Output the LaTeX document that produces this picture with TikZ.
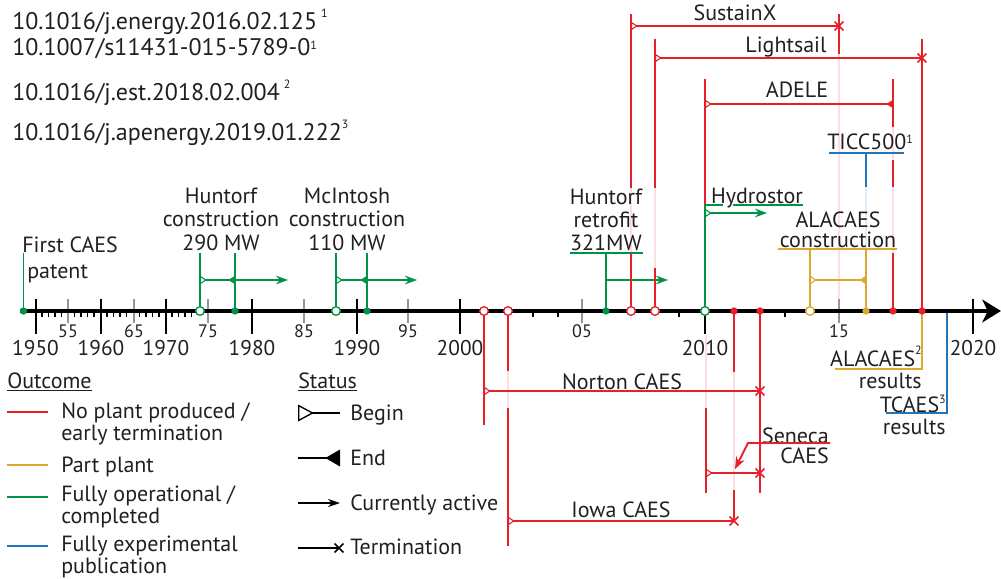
\documentclass[tikz,border=0pt]{standalone}
\usepackage{fontspec}
\setmainfont{PT Sans}
\usetikzlibrary{arrows.meta,shapes.misc}

\definecolor{caesred}{RGB}{230,32,40}
\definecolor{caesgreen}{RGB}{0,146,69}
\definecolor{caesgold}{RGB}{218,170,48}
\definecolor{caesblue}{RGB}{32,117,189}
\definecolor{tickgray}{RGB}{150,150,150}
\definecolor{inkgray}{RGB}{35,31,32}

\newcommand{\lblfont}{\fontsize{16.5}{17.6}\selectfont}
\newcommand{\doifont}{\fontsize{18}{20}\selectfont}
\newcommand{\yrfont}{\fontsize{13.5}{15}\selectfont}
\newcommand{\supr}[2][9pt]{\raisebox{#1}{\fontsize{9}{9}\selectfont #2}}

\tikzset{
    bgn/.tip={Triangle[reversed, fill=white, length=5pt, width=6.5pt, line width=0.8pt]},
    fin/.tip={Triangle[reversed, length=5pt, width=6pt]},
    act/.tip={Stealth[length=9pt, width=6.5pt]}
}

\begin{document}
\begin{tikzpicture}[
    x=0.75pt, y=-0.75pt,
    txt/.style={font=\lblfont, inner sep=0pt, text=inkgray},
    yr/.style={font=\fontsize{16}{18}\selectfont, inner sep=0pt, anchor=base, text=inkgray},
    hyr/.style={font=\yrfont, inner sep=0pt, anchor=base, text=inkgray},
    bar/.style={line width=1.4pt},
    faint/.style={line width=1.4pt, draw=#1!14},
    odot/.style={circle, draw=#1, fill=white, line width=1pt, minimum size=6.5pt, inner sep=0pt},
    fdot/.style={circle, fill=#1, minimum size=5.5pt, inner sep=0pt},
    xmark/.style={cross out, draw=#1, line width=1.1pt, minimum size=5.5pt, inner sep=0pt},
    major/.style={line width=1.5pt, draw=black},
    half/.style={line width=1.5pt, draw=tickgray},
    minor/.style={line width=0.8pt, draw=black}
]
\useasboundingbox (0,0) rectangle (1001,579);

% references
\node[txt, font=\doifont, anchor=base west] (doi1) at (12,29) {10.1016/j.energy.2016.02.125\,\supr{1}};
\node[txt, font=\doifont, anchor=base west] (doi2) at (12,55) {10.1007/s11431-015-5789-0\supr[4pt]{1}};
\node[txt, font=\doifont, anchor=base west] (doi3) at (12,100) {10.1016/j.est.2018.02.004\,\supr{2}};
\node[txt, font=\doifont, anchor=base west] (doi4) at (12,140) {10.1016/j.apenergy.2019.01.222\supr{3}};

% faint crossings
\draw[faint=caesred] (631,188) -- (631,253);
\draw[faint=caesred] (655,188) -- (655,268);
\draw[faint=caesred] (839,54) -- (839,299);
\draw[faint=caesblue] (866,187) -- (866,249);
\draw[faint=caesred] (893,127) -- (893,160);
\draw[faint=caesred] (893,187) -- (893,253);
\draw[faint=caesred] (508,371) -- (508,408);
\draw[faint=caesred] (706,335) -- (706,408);
\draw[faint=caesred] (734,372) -- (734,490);

% time axis
\foreach \k in {1,2,3,4,6,7,8,9,11,12,13,14,16,17,18,19,21,22,23,24}
    \draw[minor] ({35.5+6.5*\k},311) -- ++(0,6);
\foreach \x in {533,558,679,785}
    \draw[minor] (\x,311) -- ++(0,6);
\foreach \x/\t in {68/55,134/65,208/75,304/85,408/95,582/05,839/15} {
    \draw[half] (\x,299) -- (\x,323);
    \node[hyr] (h\t) at (\x,337) {\t};
}
\foreach \x/\t in {35.5/1950,101/1960,166/1970,252/1980,357/1990,460/2000,705/2010,973/2020} {
    \draw[major] (\x,299) -- (\x,334);
    \node[yr] (y\t) at (\x,355) {\t};
}
\draw[line width=3pt, -{Stealth[length=14pt, width=17pt, inset=4pt]}] (20,311) -- (1001,311);

% green: fully operational
\node[txt, anchor=base west] (fc1) at (22,252) {First CAES};
\node[txt, anchor=base west] (fc2) at (27,278) {patent};
\draw[bar, caesgreen] (23.5,253) -- (23.5,311);

\node[txt, align=center, anchor=base] (hcon) at (221,250) {Huntorf\\construction\\290 MW};
\draw[bar, caesgreen] (200,253) -- (200,311);
\draw[bar, caesgreen] (235,253) -- (235,311);
\draw[bar, caesgreen, bgn-fin] (200,280) -- (235,280);
\draw[bar, caesgreen, -act] (235,280) -- (288,280);

\node[txt, align=center, anchor=base] (mcon) at (347,250) {McIntosh\\construction\\110 MW};
\draw[bar, caesgreen] (336,253) -- (336,311);
\draw[bar, caesgreen] (367,253) -- (367,311);
\draw[bar, caesgreen, bgn-fin] (336,280) -- (367,280);
\draw[bar, caesgreen, -act] (367,280) -- (417,280);

\node[txt, align=center, anchor=base, font=\fontsize{16.5}{16.9}\selectfont] (hret) at (606,250) {Huntorf\\retrofit\\321MW};
\draw[bar, caesgreen] (570,253) -- (643,253);
\draw[bar, caesgreen] (606,253) -- (606,311);
\draw[bar, caesgreen, -act] (606,280) -- (668,280);

% red: no plant produced (above axis)
\draw[bar, caesred] (631,14) -- (631,188);
\draw[bar, caesred] (631,253) -- (631,311);
\node[txt, anchor=base] (sxt) at (735,20) {SustainX};
\draw[bar, caesred, bgn-] (631,26) -- (839,26) node[xmark=caesred] (sxx) {};
\draw[bar, caesred] (839,14) -- (839,54);

\draw[bar, caesred] (655,39) -- (655,188);
\draw[bar, caesred] (655,268) -- (655,311);
\node[txt, anchor=base] (lst) at (786,52) {Lightsail};
\draw[bar, caesred, bgn-] (655,58) -- (922,58) node[xmark=caesred] (lsx) {};
\draw[bar, caesred] (922,39) -- (922,311);

\draw[bar, caesred] (705,79) -- (705,205);
\node[txt, anchor=base] (adt) at (797,97) {ADELE};
\draw[bar, caesred, bgn-fin] (705,104) -- (893,104);
\draw[bar, caesred] (893,79) -- (893,127);
\draw[bar, caesred] (893,160) -- (893,187);
\draw[bar, caesred] (893,253) -- (893,311);

% blue: experimental
\node[txt, anchor=base west] (tcc) at (827,149) {TICC500\supr[4.5pt]{1}};
\draw[bar, caesblue] (829,153) -- (904,153);
\draw[bar, caesblue] (866,153) -- (866,187);

% green: Hydrostor
\node[txt, anchor=base] (hyd) at (757,203) {Hydrostor};
\draw[bar, caesgreen] (705,205) -- (723,205);
\draw[bar, caesgreen] (733,205) -- (803,205);
\draw[bar, caesgreen] (705,205) -- (705,311);
\draw[bar, caesgreen, bgn-act] (705,213) -- (767,213);

% gold: part plant
\node[txt, align=center, anchor=base, font=\fontsize{16.5}{14.8}\selectfont] (alc) at (838,247) {ALACAES\\construction};
\draw[bar, caesgold] (778,249) -- (897,249);
\draw[bar, caesgold] (810,249) -- (810,311);
\draw[bar, caesgold] (866,249) -- (866,311);
\draw[bar, caesgold, bgn-fin] (810,280) -- (866,280);

\node[txt, align=right, anchor=base east, font=\fontsize{16.5}{15.8}\selectfont] (alr) at (922,388) {ALACAES\supr{2}\\results};
\draw[bar, caesgold] (922,311) -- (922,369) -- (835,369);

\node[txt, align=right, anchor=base east, font=\fontsize{16.5}{16.4}\selectfont] (tcr) at (946,434) {TCAES\supr[6.5pt]{3}\\results};
\draw[bar, caesblue] (947,313) -- (947,413) -- (886,413);

% red: below axis
\draw[bar, caesred] (484,311) -- (484,425);
\node[txt, anchor=base] (nort) at (622,389) {Norton CAES};
\draw[bar, caesred, bgn-] (484,391) -- (760,391) node[xmark=caesred] (nox) {};

\draw[bar, caesred] (508,311) -- (508,371);
\draw[bar, caesred] (508,408) -- (508,546);
\node[txt, anchor=base] (iowt) at (621,517) {Iowa CAES};
\draw[bar, caesred, bgn-] (508,521) -- (734,521) node[xmark=caesred] (iox) {};
\draw[bar, caesred] (734,311) -- (734,372);
\draw[bar, caesred] (734,490) -- (734,521);

\draw[bar, caesred] (760,311) -- (760,493);
\draw[bar, caesred] (706,408) -- (706,493);
\draw[bar, caesred, bgn-] (706,473) -- (760,473) node[xmark=caesred] (sex) {};
\node[txt, align=right, anchor=base east, font=\fontsize{16.5}{15}\selectfont] (sent) at (829,463) {Seneca\\CAES};
\draw[bar, caesred, -{Stealth[length=9pt, width=7pt]}] (830,443) -- (748,443) -- (735,469);

% axis events
\foreach \x/\n in {23.5/ga,235/gb,367/gc,606/gd} \node[fdot=caesgreen] (\n) at (\x,311) {};
\foreach \x/\n in {200/go,336/gp,705/gq} \node[odot=caesgreen] (\n) at (\x,311) {};
\foreach \x/\n in {484/ro,508/rp,631/rq,655/rr} \node[odot=caesred] (\n) at (\x,311) {};
\foreach \x/\n in {734/ra,760/rb,893/rc,922/rd} \node[fdot=caesred] (\n) at (\x,311) {};
\node[odot=caesgold] (yo) at (810,311) {};
\node[fdot=caesgold] (ya) at (866,311) {};

% legend: outcome
\node[txt, anchor=base west] (outc) at (7,388) {\underline{Outcome}};
\draw[bar, caesred] (7,412) -- (48,412);
\draw[bar, caesgold] (7,465) -- (48,465);
\draw[bar, caesgreen] (7,497) -- (48,497);
\draw[bar, caesblue] (7,546) -- (48,546);
\node[txt, align=left, anchor=base west, font=\fontsize{16.5}{15.8}\selectfont] (lr) at (61,440) {No plant produced /\\early termination};
\node[txt, anchor=base west] (ly) at (61,472) {Part plant};
\node[txt, align=left, anchor=base west, font=\fontsize{16.5}{15.8}\selectfont] (lg) at (61,523) {Fully operational /\\completed};
\node[txt, align=left, anchor=base west, font=\fontsize{16.5}{15.8}\selectfont] (lb) at (61,573) {Fully experimental\\publication};

% legend: status
\node[txt, anchor=base west] (stat) at (298,388) {\underline{Status}};
\draw[line width=1pt, {Triangle[reversed, fill=white, length=12pt, width=12.5pt, line width=1pt]}-] (298,413) -- (340,413);
\draw[line width=1pt, -{Triangle[reversed, length=11pt, width=12.5pt]}] (298,458) -- (340,458);
\draw[line width=1pt, -{Stealth[length=9pt, width=6pt]}] (298,503) -- (340,503);
\draw[line width=1pt] (298,548) -- (339,548) node[xmark=black] (tmx) {};
\node[txt, anchor=base west] (sb) at (350,420) {Begin};
\node[txt, anchor=base west] (se) at (350,465) {End};
\node[txt, anchor=base west] (sa) at (350,510) {Currently active};
\node[txt, anchor=base west] (st) at (350,554) {Termination};
\end{tikzpicture}
\end{document}
